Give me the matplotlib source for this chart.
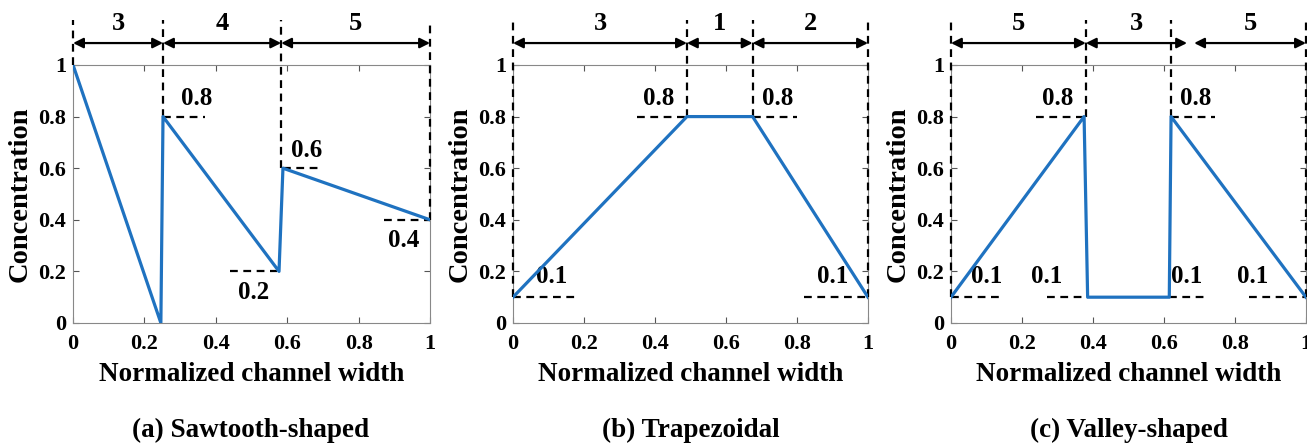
import matplotlib.pyplot as plt

plt.rcParams['font.family'] = ['Liberation Serif', 'DejaVu Serif']
plt.rcParams['font.weight'] = 'bold'

# profiles
saw_x = [0, 0.246, 0.252, 0.577, 0.588, 1]
saw_y = [1, 0, 0.8, 0.2, 0.6, 0.4]
trap_x = [0, 0.49, 0.675, 1]
trap_y = [0.1, 0.8, 0.8, 0.1]
val_x = [0, 0.375, 0.385, 0.615, 0.62, 1]
val_y = [0.1, 0.8, 0.1, 0.1, 0.8, 0.1]

# segment boundaries + widths shown on top
saw_bounds = [0, 0.252, 0.583, 1]
saw_parts = ["3", "4", "5"]
trap_bounds = [0, 0.49, 0.675, 1]
trap_parts = ["3", "1", "2"]
val_bounds = [0, 0.38, 0.62, 1]
val_arrows = [(0, 0.38), (0.38, 0.665), (0.685, 1)]
val_parts = ["5", "3", "5"]

titles = ["(a) Sawtooth-shaped", "(b) Trapezoidal", "(c) Valley-shaped"]

blue = "#1f72c0"
lefts = [0.0559, 0.3925, 0.7276]
fig = plt.figure(figsize=(13.07, 4.46), dpi=100)


def setup(ax):
    ax.set_xlim(0, 1)
    ax.set_ylim(0, 1)
    ticks = [0, 0.2, 0.4, 0.6, 0.8, 1]
    labs = ["0", "0.2", "0.4", "0.6", "0.8", "1"]
    ax.set_xticks(ticks, labs)
    ax.set_yticks(ticks, labs)
    ax.tick_params(direction='in', top=True, right=True, labelsize=16,
                   length=4, color='#555555', pad=5)
    ax.tick_params(axis='x', pad=8)
    for s in ax.spines.values():
        s.set_color('#888888')
        s.set_linewidth(0.8)
    ax.set_xlabel("Normalized channel width", fontsize=19.5, fontweight='bold',
                  labelpad=6)
    ax.set_ylabel("Concentration", fontsize=20.5, fontweight='bold', labelpad=4)


def vdash(ax, x, y0):
    ax.plot([x, x], [y0, 1.175], ls=(0, (3.5, 2.5)), color='k', lw=1.6,
            clip_on=False, zorder=3)


def hdash(ax, x0, x1, y):
    ax.plot([x0, x1], [y, y], ls=(0, (3.5, 2.5)), color='k', lw=1.6,
            clip_on=False, zorder=3)


def arrows(ax, spans, labels):
    for (a, b), t in zip(spans, labels):
        ax.annotate("", xy=(b, 1.085), xytext=(a, 1.085), annotation_clip=False,
                    arrowprops=dict(arrowstyle='<|-|>', color='k', lw=1.6,
                                    shrinkA=0, shrinkB=0, mutation_scale=15))
        ax.text((a + b) / 2, 1.16, t, ha='center', va='center', fontsize=19,
                fontweight='bold')


def lab(ax, x, y, t):
    ax.text(x, y, t, ha='center', va='center', fontsize=18, fontweight='bold')


# (a)
ax = fig.add_axes([lefts[0], 0.2758, 0.2731, 0.5785])
setup(ax)
ax.plot(saw_x, saw_y, color=blue, lw=2.3, zorder=4)
vdash(ax, saw_bounds[0], 1.0)
vdash(ax, saw_bounds[1], 0.8)
vdash(ax, saw_bounds[2], 0.6)
vdash(ax, saw_bounds[3], 0.4)
hdash(ax, 0.252, 0.37, 0.8)
hdash(ax, 0.588, 0.7, 0.6)
hdash(ax, 0.44, 0.57, 0.2)
hdash(ax, 0.87, 1.0, 0.4)
arrows(ax, list(zip(saw_bounds[:-1], saw_bounds[1:])), saw_parts)
lab(ax, 0.345, 0.87, "0.8")
lab(ax, 0.655, 0.67, "0.6")
lab(ax, 0.505, 0.12, "0.2")
lab(ax, 0.925, 0.32, "0.4")

# (b)
ax = fig.add_axes([lefts[1], 0.2758, 0.2716, 0.5785])
setup(ax)
ax.plot(trap_x, trap_y, color=blue, lw=2.3, zorder=4)
vdash(ax, trap_bounds[0], 0.1)
vdash(ax, trap_bounds[1], 0.8)
vdash(ax, trap_bounds[2], 0.8)
vdash(ax, trap_bounds[3], 0.1)
hdash(ax, 0.35, 0.49, 0.8)
hdash(ax, 0.675, 0.8, 0.8)
hdash(ax, 0.0, 0.18, 0.1)
hdash(ax, 0.82, 1.0, 0.1)
arrows(ax, list(zip(trap_bounds[:-1], trap_bounds[1:])), trap_parts)
lab(ax, 0.41, 0.87, "0.8")
lab(ax, 0.745, 0.87, "0.8")
lab(ax, 0.11, 0.18, "0.1")
lab(ax, 0.9, 0.18, "0.1")

# (c)
ax = fig.add_axes([lefts[2], 0.2758, 0.2716, 0.5785])
setup(ax)
ax.plot(val_x, val_y, color=blue, lw=2.3, zorder=4)
vdash(ax, val_bounds[0], 0.1)
vdash(ax, val_bounds[1], 0.8)
vdash(ax, val_bounds[2], 0.8)
vdash(ax, val_bounds[3], 0.1)
hdash(ax, 0.24, 0.38, 0.8)
hdash(ax, 0.62, 0.745, 0.8)
hdash(ax, 0.0, 0.15, 0.1)
hdash(ax, 0.27, 0.385, 0.1)
hdash(ax, 0.615, 0.72, 0.1)
hdash(ax, 0.84, 1.0, 0.1)
arrows(ax, val_arrows, val_parts)
lab(ax, 0.3, 0.87, "0.8")
lab(ax, 0.69, 0.87, "0.8")
lab(ax, 0.1, 0.18, "0.1")
lab(ax, 0.27, 0.18, "0.1")
lab(ax, 0.665, 0.18, "0.1")
lab(ax, 0.85, 0.18, "0.1")

for l, t in zip(lefts, titles):
    fig.text(l + 0.136, 0.034, t, ha='center', va='center', fontsize=19.5,
             fontweight='bold')

fig.savefig("out.png", dpi=100)
